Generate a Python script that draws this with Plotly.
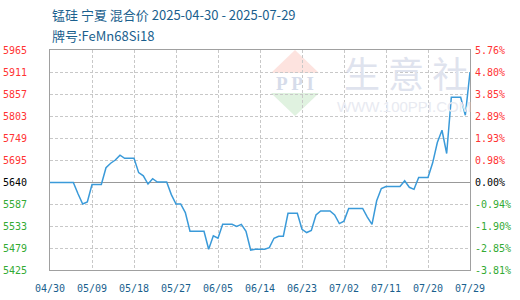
import numpy as np
import pandas as pd
import plotly.graph_objects as go

# ---------------- data ----------------
start_date = "2025-04-30"
prices = [
    5640, 5640, 5640, 5640, 5640, 5640, 5612, 5587, 5592, 5635,
    5635, 5635, 5676, 5687, 5695, 5707, 5699, 5699, 5699, 5664,
    5656, 5636, 5649, 5641, 5641, 5641, 5610, 5587, 5587, 5566,
    5520, 5520, 5520, 5520, 5476, 5509, 5503, 5537, 5537, 5537,
    5532, 5537, 5520, 5474, 5476, 5476, 5476, 5480, 5503, 5508,
    5508, 5564, 5564, 5564, 5525, 5517, 5522, 5560, 5570, 5570,
    5570, 5560, 5539, 5545, 5576, 5576, 5576, 5576, 5555, 5537,
    5595, 5625, 5630, 5630, 5630, 5630, 5644, 5628, 5623, 5652,
    5652, 5652, 5688, 5738, 5768, 5711, 5849, 5849, 5849, 5805,
    5911,
]
base_price = 5640
y_min, y_max = 5425, 5965
left_labels = ["5425", "5479", "5533", "5587", "5640", "5695",
               "5749", "5803", "5857", "5911", "5965"]
right_labels = ["-3.81%", "-2.85%", "-1.90%", "-0.94%", "0.00%", "0.98%",
                "1.93%", "2.89%", "3.85%", "4.80%", "5.76%"]
x_labels = ["04/30", "05/09", "05/18", "05/27", "06/05", "06/14",
            "06/23", "07/02", "07/11", "07/20", "07/29"]
title_line1 = "锰硅 宁夏 混合价 2025-04-30 - 2025-07-29"
title_line2 = "牌号:FeMn68Si18"

# ---------------- derived ----------------
dates = pd.date_range(start_date, periods=len(prices), freq="D")
pct = [(p / base_price - 1) * 100 for p in prices]
pct_min = (y_min / base_price - 1) * 100
pct_max = (y_max / base_price - 1) * 100

RED, GREEN, BLACK = "#ff3333", "#33aa33", "#000000"
def colored(labels, zero_idx=4):
    out = []
    for i, t in enumerate(labels):
        c = BLACK if i == zero_idx else (RED if i > zero_idx else GREEN)
        out.append(f"<span style='color:{c}'>{t}</span>")
    return out

left_vals = list(np.linspace(y_min, y_max, len(left_labels)))
right_vals = list(np.linspace(pct_min, pct_max, len(right_labels)))
x_ticks = pd.date_range(start_date, periods=len(x_labels), freq="9D")

fig = go.Figure()
fig.add_trace(go.Scatter(x=dates, y=prices, mode="lines",
                         line=dict(color="#3a9ad9", width=1.5),
                         hoverinfo="x+y", showlegend=False))
fig.add_trace(go.Scatter(x=dates, y=pct, mode="lines", yaxis="y2",
                         line=dict(color="rgba(0,0,0,0)", width=0),
                         hoverinfo="skip", showlegend=False))

mono = "DejaVu Sans Mono"
grid = "#c8c8c8"
border = "#a0a0a0"

fig.update_layout(
    width=520, height=300,
    margin=dict(l=50, r=50, t=50, b=30, pad=0, autoexpand=False),
    paper_bgcolor="white", plot_bgcolor="white",
    xaxis=dict(
        type="date", automargin=False,
        range=[dates[0], dates[-1]],
        tickmode="array", tickvals=list(x_ticks), ticktext=x_labels,
        tickfont=dict(family=mono, size=10, color="#1a5f8e"),
        showgrid=True, gridcolor=grid, griddash="3px,2px", gridwidth=1,
        showline=True, linecolor=border, linewidth=1, mirror=True,
        ticks="outside", ticklen=9, tickcolor="rgba(0,0,0,0)",
        zeroline=False, fixedrange=True,
    ),
    yaxis=dict(
        automargin=False,
        range=[y_min, y_max],
        tickmode="array", tickvals=left_vals, ticktext=colored(left_labels),
        tickfont=dict(family=mono, size=10),
        showgrid=True, gridcolor=grid, griddash="3px,2px", gridwidth=1,
        showline=True, linecolor=border, linewidth=1, mirror=True,
        ticks="outside", ticklen=20, tickcolor="rgba(0,0,0,0)",
        zeroline=False, fixedrange=True,
    ),
    yaxis2=dict(
        automargin=False,
        overlaying="y", side="right",
        range=[pct_min, pct_max],
        tickmode="array", tickvals=right_vals, ticktext=colored(right_labels),
        tickfont=dict(family=mono, size=10),
        showgrid=False, zeroline=True, zerolinecolor="#999999", zerolinewidth=1,
        ticks="outside", ticklen=2, tickcolor="rgba(0,0,0,0)",
        showline=False, fixedrange=True,
    ),
)

# ---- titles ----
def py(ypix):
    return (270 - ypix) / 220.0
def px(xpix):
    return (xpix - 50) / 420.0

fig.add_annotation(text=title_line1, xref="paper", yref="paper",
                   x=0, y=py(15), xanchor="left", yanchor="middle",
                   showarrow=False,
                   font=dict(family="Noto Sans CJK SC", size=13, color="#1a5f8e"))
fig.add_annotation(text=title_line2, xref="paper", yref="paper",
                   x=0, y=py(36), xanchor="left", yanchor="middle",
                   showarrow=False,
                   font=dict(family="Noto Sans CJK SC", size=13, color="#1a5f8e"))

# ---- watermark ----
fig.add_shape(type="path", xref="paper", yref="paper", layer="below",
              path=f"M {px(295)} {py(50)} L {px(319)} {py(73)} L {px(271)} {py(73)} Z",
              fillcolor="#fde3df", line=dict(width=0))
fig.add_shape(type="path", xref="paper", yref="paper", layer="below",
              path=f"M {px(271)} {py(93)} L {px(319)} {py(93)} L {px(295)} {py(116)} Z",
              fillcolor="#e0f2e0", line=dict(width=0))
fig.add_annotation(text="<b>P P I</b>", xref="paper", yref="paper",
                   x=px(295), y=py(83), xanchor="center", yanchor="middle",
                   showarrow=False,
                   font=dict(family="Liberation Serif", size=19, color="#d6dcea"))
fig.add_annotation(text="生 意 社", xref="paper", yref="paper",
                   x=px(406), y=py(72), xanchor="center", yanchor="middle",
                   showarrow=False,
                   font=dict(family="Noto Sans CJK SC", size=36, color="#dfe3ee"))
fig.add_annotation(text="WWW.100PPI.COM", xref="paper", yref="paper",
                   x=px(404), y=py(106), xanchor="center", yanchor="middle",
                   showarrow=False,
                   font=dict(family="Liberation Sans", size=15, color="#e8eaf1"))

fig.write_html("out.html")
